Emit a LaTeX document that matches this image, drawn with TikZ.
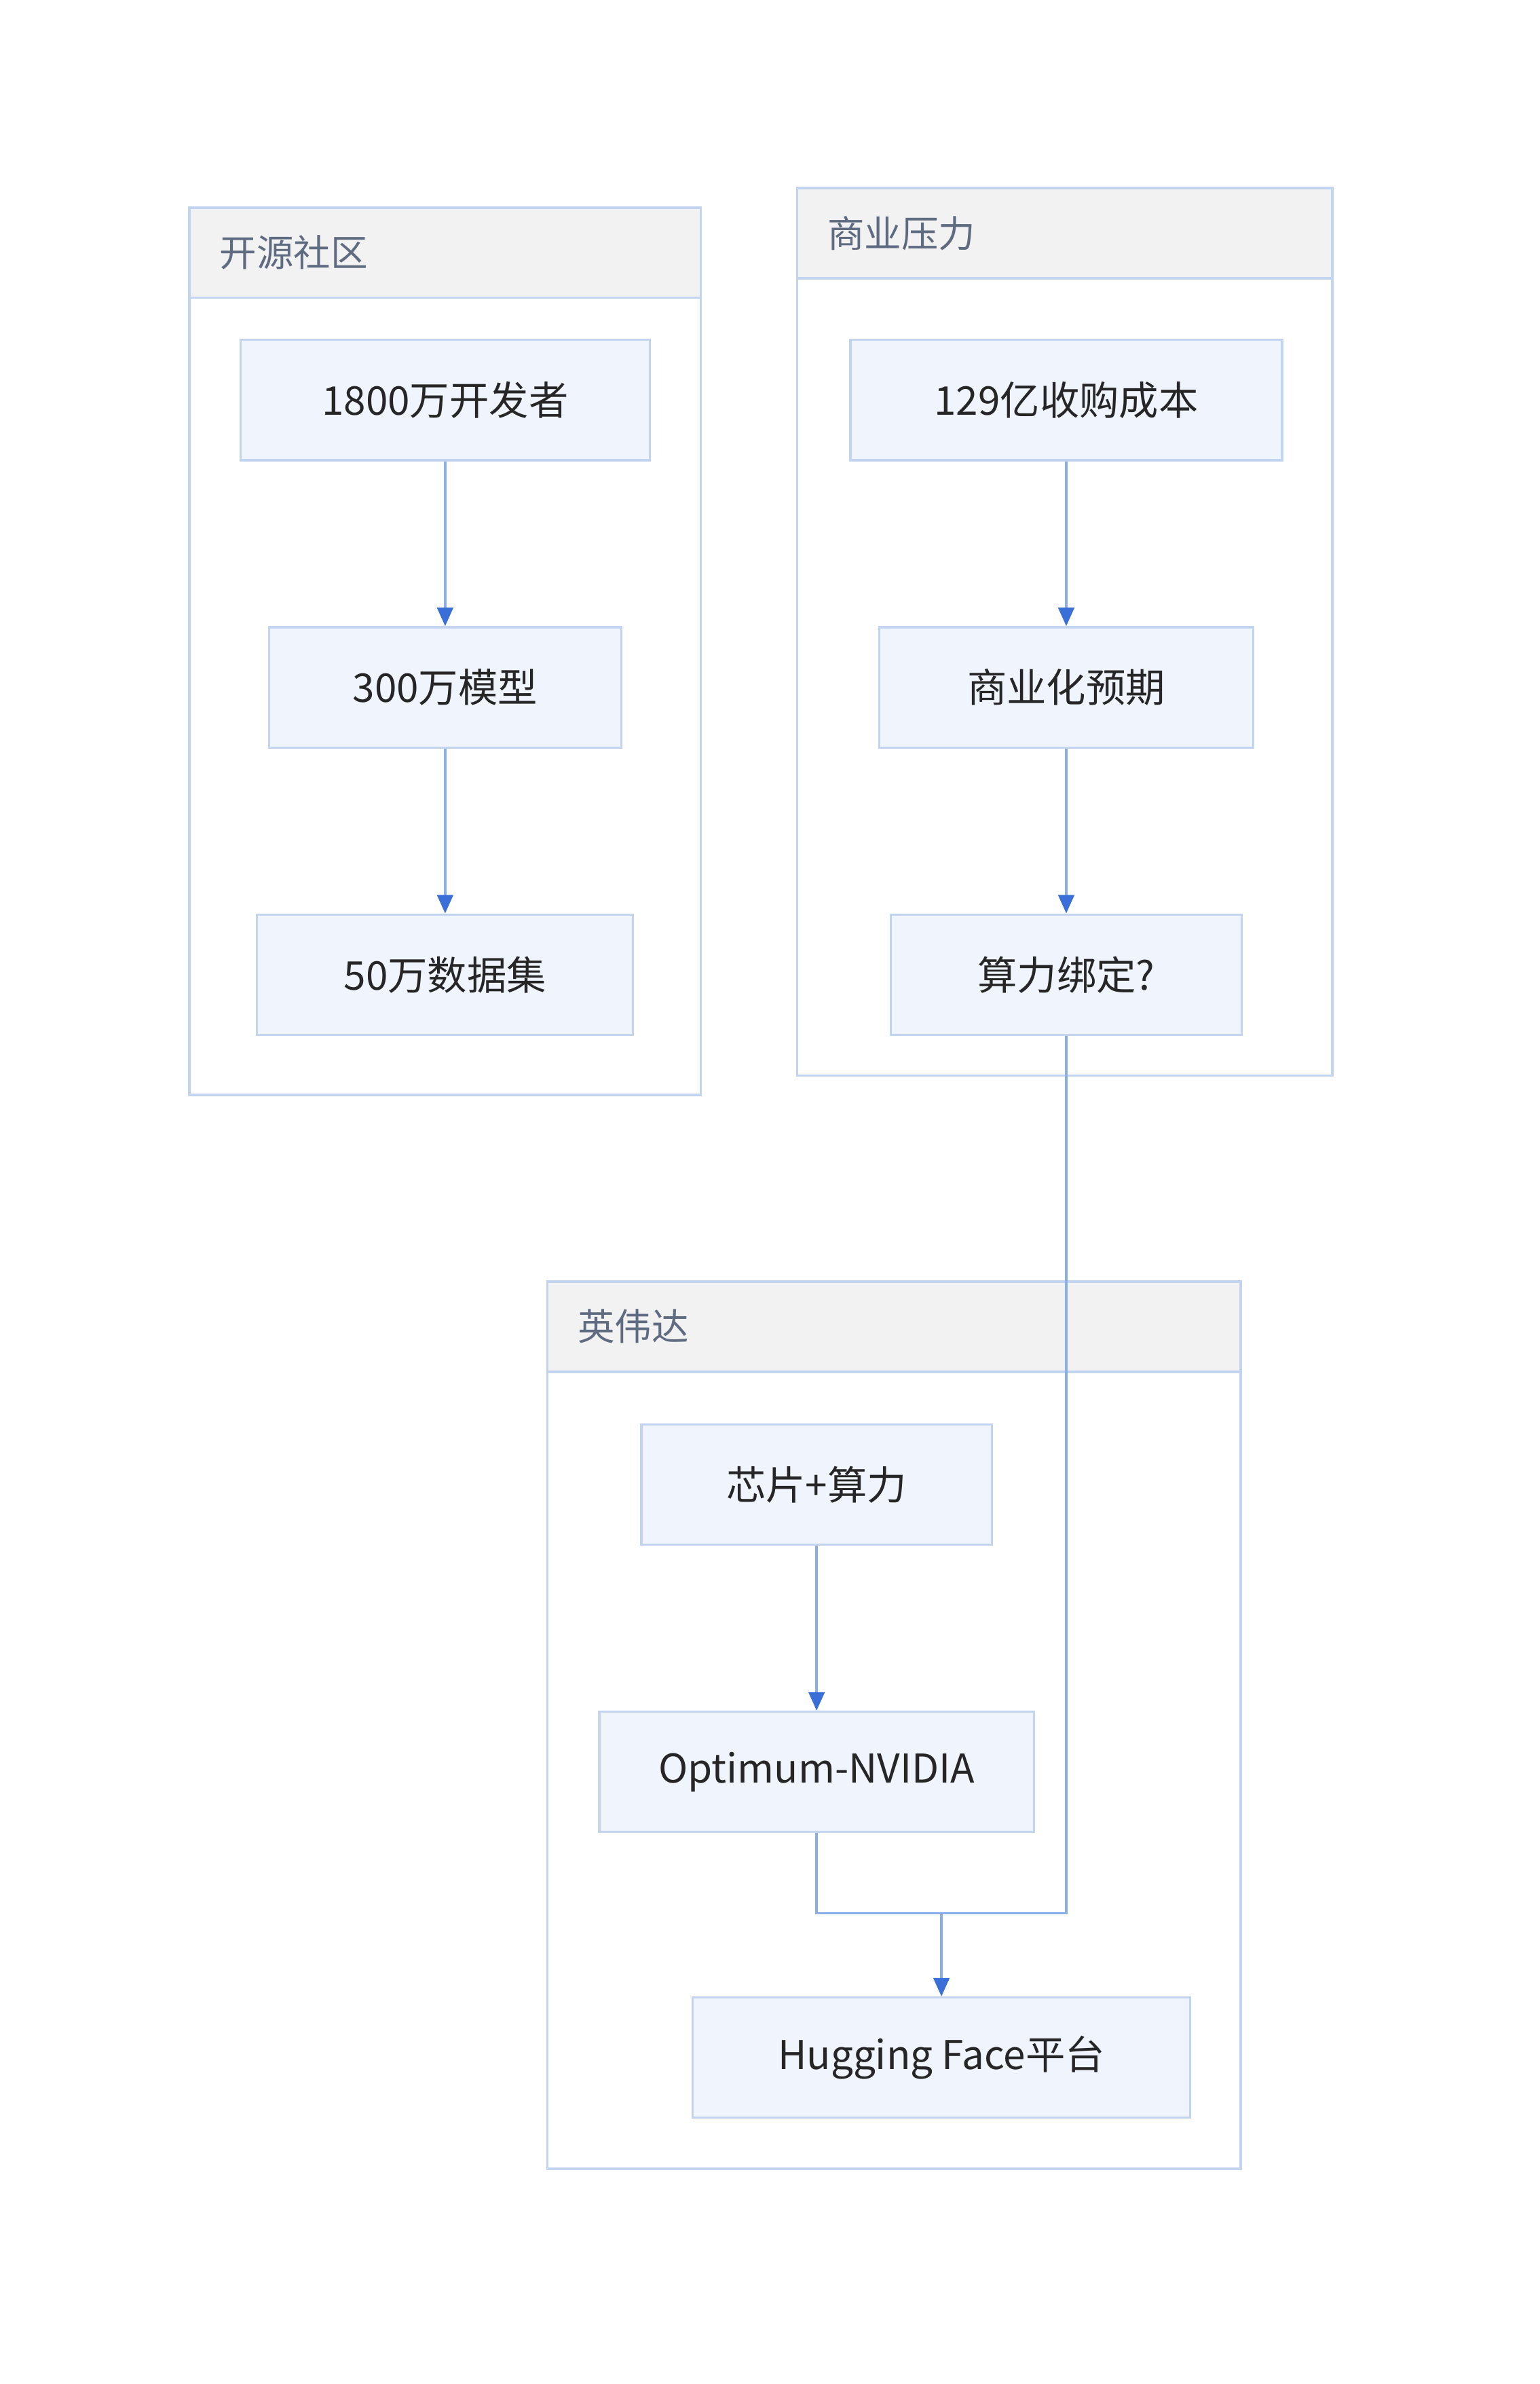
\documentclass[tikz,border=0pt]{standalone}
\usepackage{fontspec}
\setmainfont{Noto Sans CJK SC}
\usetikzlibrary{arrows.meta,positioning}
\definecolor{boxfill}{HTML}{EFF4FD}
\definecolor{boxline}{HTML}{C3D4F1}
\definecolor{headfill}{HTML}{F2F2F2}
\definecolor{headtext}{HTML}{5F6B80}
\definecolor{linkline}{HTML}{8AAEE8}
\definecolor{linkhead}{HTML}{3A6FD8}
\begin{document}
\begin{tikzpicture}[x=0.02cm,y=-0.02cm,
    >={Triangle[length=7pt,width=6pt,color=linkhead]}]
    \tikzstyle{item}=[rectangle,draw=boxline,fill=boxfill,line width=0.8pt,font=\fontsize{15}{18}\selectfont,text=black!85]
    \tikzstyle{group}=[draw=boxline,line width=0.9pt]
    \tikzstyle{head}=[draw=boxline,fill=headfill,line width=0.9pt]
    \tikzstyle{headlabel}=[anchor=west,font=\fontsize{14}{17}\selectfont,text=headtext]
    \tikzstyle{link}=[draw=linkline,line width=1pt]
    \useasboundingbox (0,0) rectangle (1024,1585);
    % groups
    \draw[group] (126,138) rectangle (466,728);
    \draw[head] (126,138) rectangle (466,198);
    \node[headlabel] (gopen) at (140,168) {开源社区};
    \draw[group] (530,125) rectangle (886,715);
    \draw[head] (530,125) rectangle (886,185);
    \node[headlabel] (gbiz) at (544,155) {商业压力};
    \draw[group] (364,852) rectangle (825,1442);
    \draw[head] (364,852) rectangle (825,912);
    \node[headlabel] (gnv) at (378,882) {英伟达};
    % nodes
    \node[item,minimum width=272*0.02cm,minimum height=80*0.02cm] (dev) at (296,266) {1800万开发者};
    \node[item,minimum width=234*0.02cm,minimum height=80*0.02cm] (models) at (296,457) {300万模型};
    \node[item,minimum width=250*0.02cm,minimum height=80*0.02cm] (data) at (296,648) {50万数据集};
    \node[item,minimum width=287*0.02cm,minimum height=80*0.02cm] (cost) at (709,266) {129亿收购成本};
    \node[item,minimum width=249*0.02cm,minimum height=80*0.02cm] (expect) at (709,457) {商业化预期};
    \node[item,minimum width=233*0.02cm,minimum height=80*0.02cm] (bind) at (709,648) {算力绑定?};
    \node[item,minimum width=233*0.02cm,minimum height=80*0.02cm] (chip) at (543,987) {芯片+算力};
    \node[item,minimum width=289*0.02cm,minimum height=80*0.02cm] (optimum) at (543,1178) {Optimum-NVIDIA};
    \node[item,minimum width=331*0.02cm,minimum height=80*0.02cm] (hf) at (626,1368) {Hugging Face平台};
    \coordinate (join) at (626,1272);
    % links
    \draw[link,->] (dev) -- (models);
    \draw[link,->] (models) -- (data);
    \draw[link,->] (cost) -- (expect);
    \draw[link,->] (expect) -- (bind);
    \draw[link,->] (chip) -- (optimum);
    \draw[link] (optimum.south) |- (join);
    \draw[link] (bind.south) |- (join);
    \draw[link,->] (join) -- (hf);
\end{tikzpicture}
\end{document}
